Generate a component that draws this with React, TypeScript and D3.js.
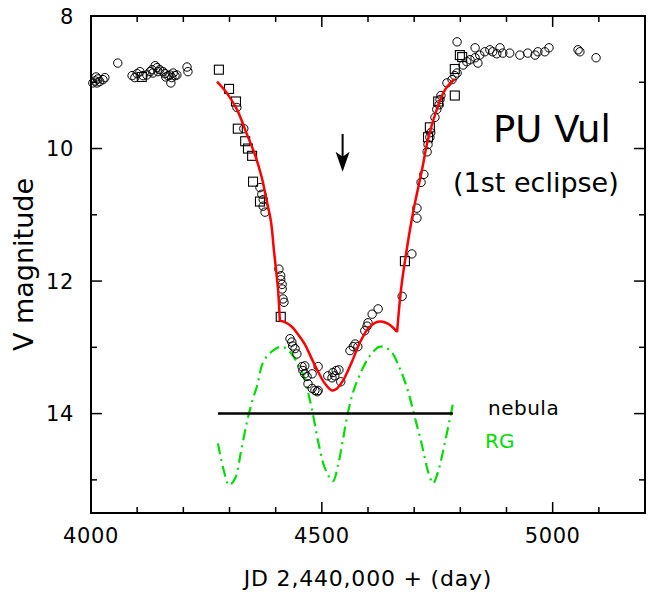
import React from "react";
import * as d3 from "d3";

// ---- data ----
const circles: [number, number][] = [
  [4004, 9.01], [4009, 8.98], [4013, 9.01], [4015, 8.95], [4019, 8.99], [4026, 8.96], [4030, 8.93], [4011, 8.92],
  [4058, 8.71],
  [4089, 8.9], [4095, 8.93], [4100, 8.87], [4106, 8.84], [4113, 8.9], [4121, 8.89], [4128, 8.84], [4132, 8.81],
  [4134, 8.86], [4139, 8.75], [4143, 8.78], [4145, 8.84], [4149, 8.81], [4156, 8.84], [4160, 8.87], [4162, 8.92],
  [4167, 8.9], [4171, 8.89], [4173, 9.01], [4175, 8.93], [4178, 8.86], [4182, 8.9], [4186, 8.89],
  [4208, 8.77], [4210, 8.84],
  [4316, 9.38], [4331, 9.7], [4366, 10.59], [4370, 10.69], [4373, 10.77], [4373, 10.87], [4377, 10.96],
  [4407, 11.82], [4411, 11.92], [4411, 11.98], [4414, 12.05], [4414, 12.12], [4416, 12.27], [4418, 12.32],
  [4431, 12.87], [4435, 12.92], [4437, 12.98], [4442, 13.02], [4446, 13.1],
  [4457, 13.29], [4459, 13.35], [4463, 13.4], [4468, 13.44], [4470, 13.55], [4479, 13.62], [4485, 13.65],
  [4490, 13.67], [4492, 13.65], [4463, 13.28], [4479, 13.4], [4492, 13.29],
  [4513, 13.43], [4522, 13.46], [4524, 13.38], [4528, 13.43], [4531, 13.35], [4537, 13.34], [4541, 13.52],
  [4561, 13.05], [4568, 12.99], [4572, 12.95], [4578, 12.99], [4593, 12.75], [4598, 12.68], [4600, 12.63],
  [4609, 12.5], [4622, 12.42],
  [4674, 12.23], [4695, 11.59], [4706, 11.05], [4706, 10.9], [4715, 10.51], [4721, 10.39], [4728, 10.05],
  [4730, 9.94], [4734, 9.83], [4736, 9.76], [4745, 9.53], [4749, 9.41], [4754, 9.34], [4756, 9.26], [4758, 9.2],
  [4771, 9.01], [4782, 8.96], [4788, 8.9], [4793, 8.86], [4793, 8.39],
  [4806, 8.74], [4814, 8.69], [4821, 8.66], [4832, 8.63], [4838, 8.71], [4842, 8.59], [4853, 8.54], [4832, 8.48],
  [4864, 8.51], [4870, 8.54], [4879, 8.57], [4886, 8.48], [4892, 8.56], [4907, 8.56], [4929, 8.59], [4946, 8.56],
  [4962, 8.59], [4968, 8.54], [4983, 8.54], [4992, 8.48], [5055, 8.51], [5059, 8.54], [5094, 8.63],
];

const squares: [number, number][] = [
  [4110, 8.92],
  [4277, 8.81], [4299, 9.1], [4314, 9.29], [4318, 9.7], [4334, 9.89], [4340, 10.0], [4349, 10.11], [4351, 10.5],
  [4366, 10.8], [4411, 12.54],
  [4680, 11.7], [4730, 9.83], [4734, 9.68], [4752, 9.29], [4788, 9.2], [4788, 8.8], [4804, 8.62], [4799, 8.59],
];

// model light curve, split at its two sharp corners
const modelDescent: [number, number][] = [
  [4273, 8.99], [4294, 9.16], [4316, 9.41], [4338, 9.79], [4355, 10.09], [4370, 10.44], [4381, 10.8],
  [4390, 11.11], [4396, 11.52], [4405, 12.12], [4409, 12.6],
];
const modelEclipse: [number, number][] = [
  [4409, 12.6], [4420, 12.62], [4435, 12.69], [4448, 12.8],
  [4463, 12.95], [4478, 13.17], [4492, 13.37], [4507, 13.55], [4522, 13.65], [4533, 13.62], [4546, 13.5],
  [4565, 13.22], [4583, 12.92], [4600, 12.72], [4615, 12.63], [4628, 12.61], [4642, 12.64], [4654, 12.7], [4663, 12.77],
];
const modelAscent: [number, number][] = [
  [4663, 12.77], [4672, 12.1], [4684, 11.52], [4698, 10.95], [4717, 10.32], [4730, 9.86], [4749, 9.41],
  [4767, 9.11], [4788, 8.95],
];

const rgCurve: [number, number][] = [
  [4275, 14.45], [4288, 14.87], [4299, 15.08], [4312, 14.98], [4325, 14.57], [4338, 14.12], [4351, 13.77],
  [4360, 13.58], [4373, 13.22], [4394, 13.05], [4413, 12.99], [4431, 13.07], [4457, 13.37], [4468, 13.62],
  [4479, 13.95], [4492, 14.42], [4507, 14.83], [4524, 15.02], [4535, 14.78], [4546, 14.38], [4557, 13.97],
  [4568, 13.67], [4583, 13.4], [4604, 13.13], [4626, 12.99], [4648, 13.05], [4669, 13.32], [4687, 13.67],
  [4702, 14.07], [4717, 14.48], [4730, 14.87], [4741, 15.05], [4752, 14.87], [4767, 14.42], [4784, 13.85],
];

const nebulaLevel = 14.0;
const nebulaRange: [number, number] = [4275, 4784];
const arrowX = 4545;
const arrowFrom = 9.78;
const arrowTo = 10.35;

const xTicks = [4000, 4100, 4200, 4300, 4400, 4500, 4600, 4700, 4800, 4900, 5000, 5100, 5200];
const xLabels = [4000, 4500, 5000];
const yTicks = [8, 9, 10, 11, 12, 13, 14, 15];
const yLabels = [8, 10, 12, 14];

const W = 654;
const H = 595;
const L = 91, R = 645, T = 16, B = 513;
const FONT = "'DejaVu Sans', Verdana, sans-serif";

export default function App() {
  const x = d3.scaleLinear().domain([4000, 5200]).range([L, R]);
  const y = d3.scaleLinear().domain([8, 15.5]).range([T, B]);

  const line = d3
    .line<[number, number]>()
    .x((d) => x(d[0]))
    .y((d) => y(d[1]))
    .curve(d3.curveCatmullRom.alpha(0.5));

  const ax = x(arrowX);
  const ay1 = y(arrowFrom);
  const ay2 = y(arrowTo);

  const modelPath = [modelDescent, modelEclipse, modelAscent].map((s) => line(s) || "").join(" ");

  return (
    <svg width={W} height={H} style={{ position: "absolute", left: 0, top: 0, background: "#fff" }}>
      <rect x={0} y={0} width={W} height={H} fill="#fff" />

      {/* RG curve */}
      <path d={line(rgCurve) || ""} fill="none" stroke="#00dd00" strokeWidth={2.2} strokeDasharray="11,5,2,5" />

      {/* nebula line */}
      <line x1={x(nebulaRange[0])} x2={x(nebulaRange[1])} y1={y(nebulaLevel)} y2={y(nebulaLevel)} stroke="#000" strokeWidth={2.5} />

      {/* data points */}
      {circles.map((d, i) => (
        <circle key={"c" + i} cx={x(d[0])} cy={y(d[1])} r={4.2} fill="none" stroke="#000" strokeWidth={1} />
      ))}
      {squares.map((d, i) => (
        <rect key={"s" + i} x={x(d[0]) - 4.5} y={y(d[1]) - 4.5} width={9} height={9} fill="none" stroke="#000" strokeWidth={1.1} />
      ))}

      {/* model */}
      <path d={modelPath} fill="none" stroke="#ff0000" strokeWidth={2.5} strokeLinejoin="round" />

      {/* arrow */}
      <line x1={ax} x2={ax} y1={ay1} y2={ay2 - 8} stroke="#000" strokeWidth={2} />
      <path d={`M${ax},${ay2} L${ax - 7},${ay2 - 20} L${ax},${ay2 - 15} L${ax + 7},${ay2 - 20} Z`} fill="#000" />

      {/* frame */}
      <rect x={L} y={T} width={R - L} height={B - T} fill="none" stroke="#000" strokeWidth={2} />

      {/* x ticks */}
      {xTicks.map((t) => {
        const len = xLabels.includes(t) ? 11 : 6;
        return (
          <g key={"xt" + t}>
            <line x1={x(t)} x2={x(t)} y1={B} y2={B - len} stroke="#000" strokeWidth={1.5} />
            <line x1={x(t)} x2={x(t)} y1={T} y2={T + len} stroke="#000" strokeWidth={1.5} />
          </g>
        );
      })}
      {yTicks.map((t) => {
        const len = yLabels.includes(t) ? 11 : 6;
        return (
          <g key={"yt" + t}>
            <line x1={L} x2={L + len} y1={y(t)} y2={y(t)} stroke="#000" strokeWidth={1.5} />
            <line x1={R} x2={R - len} y1={y(t)} y2={y(t)} stroke="#000" strokeWidth={1.5} />
          </g>
        );
      })}

      {/* tick labels */}
      {xLabels.map((t) => (
        <text key={"xl" + t} x={x(t)} y={543} textAnchor="middle" fontFamily={FONT} fontSize={21} letterSpacing={0.6}>
          {t}
        </text>
      ))}
      {yLabels.map((t) => (
        <text key={"yl" + t} x={74} y={y(t) + 7.5} textAnchor="end" fontFamily={FONT} fontSize={21} letterSpacing={0.6}>
          {t}
        </text>
      ))}

      {/* axis titles */}
      <text x={(L + R) / 2} y={586} textAnchor="middle" fontFamily={FONT} fontSize={22} letterSpacing={0.8}>
        JD 2,440,000 + (day)
      </text>
      <text
        transform={`translate(33,${(T + B) / 2}) rotate(-90)`}
        textAnchor="middle"
        fontFamily={FONT}
        fontSize={27}
      >
        V magnitude
      </text>

      {/* annotations */}
      <text x={493} y={142} fontFamily={FONT} fontSize={37}>PU Vul</text>
      <text x={453} y={192} fontFamily={FONT} fontSize={27}>(1st eclipse)</text>
      <text x={488} y={415} fontFamily={FONT} fontSize={20} letterSpacing={0.5}>nebula</text>
      <text x={485} y={448} fontFamily={FONT} fontSize={20} fill="#00dd00">RG</text>
    </svg>
  );
}
